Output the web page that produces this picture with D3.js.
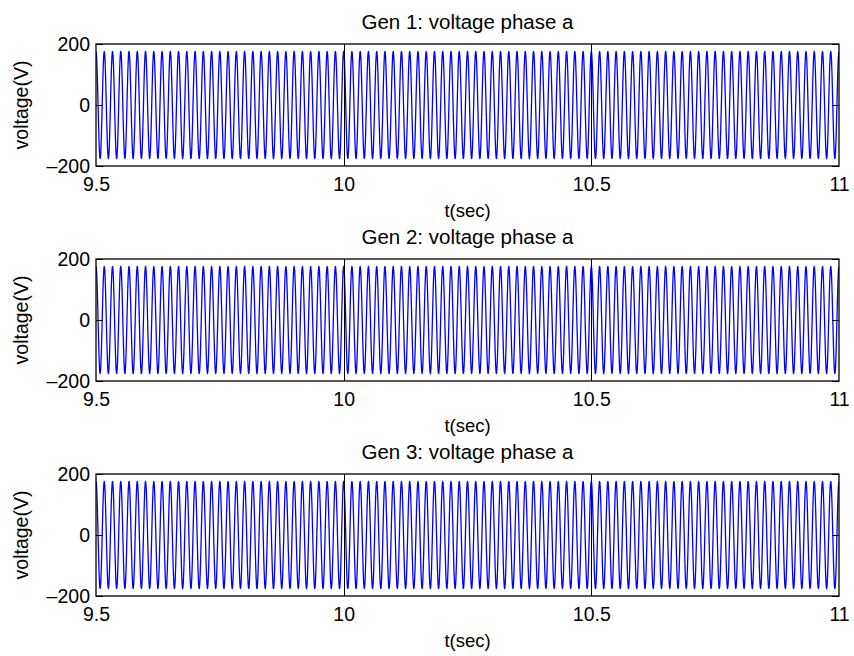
<!DOCTYPE html>
<html>
<head>
<meta charset="utf-8">
<script src="https://cdn.jsdelivr.net/npm/d3@7"></script>
<style>
  body { margin: 0; background: #fff; }
  svg text { font-family: "Liberation Sans", Arial, sans-serif; fill: #000; }
</style>
</head>
<body>
<svg id="chart" width="854" height="656"></svg>
<script>
// titles of the three panels
const panelTitles = ["Gen 1: voltage phase a", "Gen 2: voltage phase a", "Gen 3: voltage phase a"];
// waveform: peak volts, frequency (Hz), phase (rad)
const peakVolts = [175, 175, 175];
const freqHz = [60, 60, 60];
const phaseRad = [0, 0, 0];
const sampleStep = 0.0002;   // sec
const timeRange = [9.5, 11];
const voltRange = [-200, 200];
const xTicks = [9.5, 10, 10.5, 11];
const yTicks = [-200, 0, 200];
const xGridAt = [10, 10.5];

const svg = d3.select("#chart");

const left = 96, right = 839;
const panelTops = [44, 259, 474];
const panelH = 122;

const x = d3.scaleLinear().domain(timeRange).range([left, right]);

panelTitles.forEach((title, i) => {
    const top = panelTops[i];
    const y = d3.scaleLinear().domain(voltRange).range([top + panelH, top]);

    // samples of the sinusoid for this generator
    const samples = d3.range(timeRange[0], timeRange[1] + sampleStep / 2, sampleStep)
        .map(t => ({ t: t, v: peakVolts[i] * Math.cos(2 * Math.PI * freqHz[i] * t + phaseRad[i]) }));

    const g = svg.append("g");

    const clipId = "clip" + i;
    g.append("clipPath").attr("id", clipId)
        .append("rect")
        .attr("x", left).attr("y", top)
        .attr("width", right - left).attr("height", panelH);

    const line = d3.line().x(d => x(d.t)).y(d => y(d.v));

    g.append("path")
        .datum(samples)
        .attr("clip-path", `url(#${clipId})`)
        .attr("d", line)
        .attr("fill", "none")
        .attr("stroke", "#0000ff")
        .attr("stroke-width", 1.3);

    // full-height black lines at interior ticks
    g.selectAll("line.vgrid")
        .data(xGridAt)
        .enter()
        .append("line")
        .attr("class", "vgrid")
        .attr("x1", d => Math.round(x(d)) + 0.5)
        .attr("x2", d => Math.round(x(d)) + 0.5)
        .attr("y1", top)
        .attr("y2", top + panelH)
        .attr("stroke", "#000")
        .attr("stroke-width", 1);

    // bottom axis
    const xAxis = d3.axisBottom(x).tickValues(xTicks).tickFormat(d3.format("")).tickSize(0).tickPadding(11);
    g.append("g")
        .attr("transform", `translate(0,${top + panelH})`)
        .call(xAxis)
        .call(a => a.select(".domain").remove())
        .selectAll("text")
        .style("font-size", "19.5px")
        .attr("dy", "0.71em");

    // left axis
    const yAxis = d3.axisLeft(y).tickValues(yTicks)
        .tickFormat(d => d < 0 ? "\u2013" + Math.abs(d) : d)
        .tickSize(-7).tickPadding(6);
    g.append("g")
        .attr("transform", `translate(${left},0)`)
        .call(yAxis)
        .call(a => a.select(".domain").remove())
        .call(a => a.selectAll("line").attr("stroke", "#000"))
        .selectAll("text")
        .style("font-size", "19.5px");

    // right side ticks
    g.append("g")
        .attr("transform", `translate(${right},0)`)
        .call(d3.axisRight(y).tickValues(yTicks).tickSize(-7).tickFormat(""))
        .call(a => a.select(".domain").remove());

    // frame
    g.append("rect")
        .attr("x", left).attr("y", top)
        .attr("width", right - left).attr("height", panelH)
        .attr("fill", "none")
        .attr("stroke", "#000")
        .attr("stroke-width", 1.3);

    g.append("text")
        .attr("x", (left + right) / 2)
        .attr("y", top - 15)
        .attr("text-anchor", "middle")
        .style("font-size", "20.5px")
        .text(title);

    g.append("text")
        .attr("x", (left + right) / 2)
        .attr("y", top + panelH + 51)
        .attr("text-anchor", "middle")
        .style("font-size", "18.5px")
        .text("t(sec)");

    g.append("text")
        .attr("transform", `translate(28,${top + panelH / 2}) rotate(-90)`)
        .attr("text-anchor", "middle")
        .style("font-size", "19.5px")
        .text("voltage(V)");
});
</script>
</body>
</html>
